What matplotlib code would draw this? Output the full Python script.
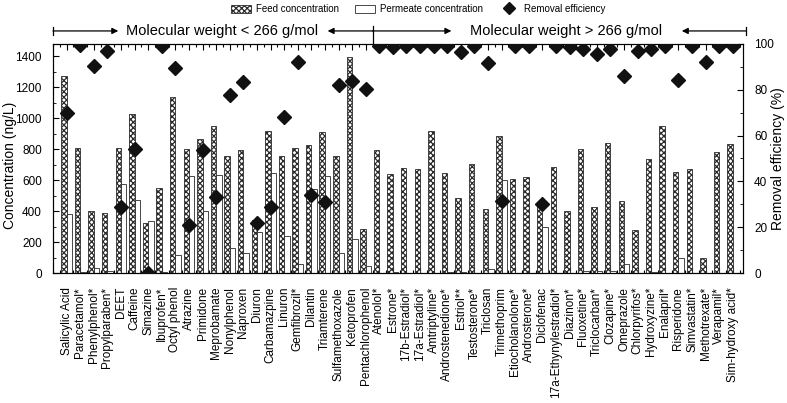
import matplotlib
matplotlib.use("Agg")
import matplotlib.pyplot as plt
import numpy as np
from matplotlib.patches import Patch
from matplotlib.lines import Line2D
from matplotlib.ticker import MultipleLocator

plt.rcParams['font.family'] = ['Liberation Sans', 'DejaVu Sans']
plt.rcParams['hatch.linewidth'] = 0.9

categories = ["Salicylic Acid", "Paracetamol*", "Phenylphenol*", "Propylparaben*", "DEET",
              "Caffeine", "Simazine", "Ibuprofen*", "Octyl phenol", "Atrazine",
              "Primidone", "Meprobamate", "Nonylphenol", "Naproxen", "Diuron",
              "Carbamazpine", "Linuron", "Gemfibrozil*", "Dilantin", "Triamterene",
              "Sulfamethoxazole", "Ketoprofen", "Pentachlorophenol", "Atenolol*", "Estrone*",
              "17b-Estradiol*", "17a-Estradiol*", "Amtriptyline*", "Androstenedione*", "Estriol**",
              "Testosterone*", "Triclosan", "Trimethoprim", "Etiocholanolone*", "Androsterone*",
              "Diclofenac", "17a-Ethynylestradiol*", "Diazinon*", "Fluoxetine*", "Triclocarban*",
              "Clozapine*", "Omeprazole", "Chlorpyrifos*", "Hydroxyzine*", "Enalapril*",
              "Risperidone", "Simvastatin*", "Methotrexate*", "Verapamil*", "Sim-hydroxy acid*"]

feed = [1270, 808, 402, 387, 808, 1028, 322, 549, 1134, 802,
        864, 946, 754, 791, 342, 918, 756, 806, 828, 910,
        754, 1396, 283, 795, 638, 678, 670, 914, 644, 486,
        704, 413, 886, 605, 620, 432, 687, 402, 802, 424,
        838, 462, 275, 735, 951, 653, 670, 100, 780, 835]

permeate = [380, 5, 32, 11, 575, 469, 335, 5, 115, 627,
            398, 631, 164, 126, 264, 648, 238, 58, 540, 627,
            132, 220, 48, 3, 5, 3, 3, 3, 5, 8,
            3, 26, 599, 3, 3, 298, 3, 3, 10, 10,
            10, 58, 3, 5, 3, 97, 3, 3, 3, 3]

removal = [70.0, 99.4, 90.4, 97.0, 28.9, 54.0, 0.0, 99.0, 89.6, 21.0,
           53.6, 33.0, 77.7, 83.5, 21.7, 29.0, 68.2, 92.0, 34.0, 30.8,
           82.0, 84.0, 80.5, 99.3, 98.8, 99.0, 99.0, 99.0, 99.0, 96.6,
           99.0, 91.8, 31.5, 99.0, 99.0, 30.3, 99.0, 98.5, 97.7, 95.6,
           98.0, 86.0, 97.0, 97.7, 99.3, 84.3, 99.0, 92.0, 99.0, 99.0]

group_labels = ["Molecular weight < 266 g/mol", "Molecular weight > 266 g/mol"]

x = np.arange(1, len(categories) + 1)
w = 0.4

fig = plt.figure(figsize=(7.87, 4.03), dpi=100)
ax = fig.add_axes([53/787, 1 - 273/403, (743-53)/787, (273-44)/403])
ax2 = ax.twinx()

ax.bar(x - w/2, feed, width=w, facecolor='white', edgecolor='#2a2a2a',
       hatch='xxxxxx', linewidth=0.6, zorder=2)
ax.bar(x + w/2, permeate, width=w, facecolor='white', edgecolor='#2a2a2a',
       linewidth=0.6, zorder=2)
ax2.plot(x, removal, linestyle='none', marker='D', markersize=7,
         color='#111111', zorder=3)

ax.set_xlim(0, 50.75)
ax.set_ylim(0, 1478)
ax2.set_ylim(0, 100)

ax.set_xticks(x)
ax.set_xticklabels(categories, rotation=90, fontsize=8.5)
ax.xaxis.set_minor_locator(MultipleLocator(0.5))
ax.yaxis.set_major_locator(MultipleLocator(200))
ax.yaxis.set_minor_locator(MultipleLocator(100))
ax2.yaxis.set_major_locator(MultipleLocator(20))
ax2.yaxis.set_minor_locator(MultipleLocator(10))

ax.tick_params(axis='x', which='both', direction='in', top=True, bottom=True, pad=10)
ax.tick_params(axis='x', which='major', length=4, width=0.8)
ax.tick_params(axis='x', which='minor', length=2.5, width=0.8)
ax.tick_params(axis='y', which='major', direction='in', length=4, labelsize=8.5, pad=8)
ax.tick_params(axis='y', which='minor', direction='in', length=2.5)
ax2.tick_params(axis='y', which='major', direction='in', length=4, labelsize=8.5, pad=8)
ax2.tick_params(axis='y', which='minor', direction='in', length=2.5)

ax.set_ylabel("Concentration (ng/L)", fontsize=10)
ax2.set_ylabel("Removal efficiency (%)", fontsize=10)
ax.yaxis.set_label_coords((17 - 53) / 690, 0.47)
ax2.yaxis.set_label_coords((771 - 53) / 690, 0.5)

for a in (ax, ax2):
    for s in a.spines.values():
        s.set_linewidth(0.8)

# group annotations
tr = ax.get_xaxis_transform()
ya = 1.057
arrow = dict(arrowstyle='-|>', lw=0.9, color='black', mutation_scale=9,
             shrinkA=0, shrinkB=0)
ax.annotate('', xy=(4.8, ya), xytext=(0.0, ya), xycoords=tr, textcoords=tr, arrowprops=arrow)
ax.annotate('', xy=(20.2, ya), xytext=(23.5, ya), xycoords=tr, textcoords=tr, arrowprops=arrow)
ax.annotate('', xy=(29.3, ya), xytext=(23.5, ya), xycoords=tr, textcoords=tr, arrowprops=arrow)
ax.annotate('', xy=(46.25, ya), xytext=(51.0, ya), xycoords=tr, textcoords=tr, arrowprops=arrow)
ax.plot([0.0, 0.0], [1.04, 1.075], transform=tr, color='black', lw=0.9, clip_on=False)
ax.plot([51.0, 51.0], [1.04, 1.075], transform=tr, color='black', lw=0.9, clip_on=False)
ax.plot([23.5, 23.5], [1.0, 1.08], transform=tr, color='black', lw=0.9, clip_on=False)
ax.text(12.45, 1.058, group_labels[0], transform=tr, ha='center', va='center', fontsize=10.5)
ax.text(37.7, 1.058, group_labels[1], transform=tr, ha='center', va='center', fontsize=10.5)

handles = [Patch(facecolor='white', edgecolor='#2a2a2a', hatch='xxxxxx', linewidth=0.6),
           Patch(facecolor='white', edgecolor='#2a2a2a', linewidth=0.6),
           Line2D([], [], linestyle='none', marker='D', markersize=6, color='#111111')]
fig.legend(handles, ["Feed concentration", "Permeate concentration", "Removal efficiency"],
           loc='center', bbox_to_anchor=(418/787, 1 - 9/403), ncol=3, frameon=False,
           fontsize=7, handlelength=2.1, handleheight=0.9, columnspacing=1.6, handletextpad=0.5)

fig.savefig("out.png", dpi=100)
